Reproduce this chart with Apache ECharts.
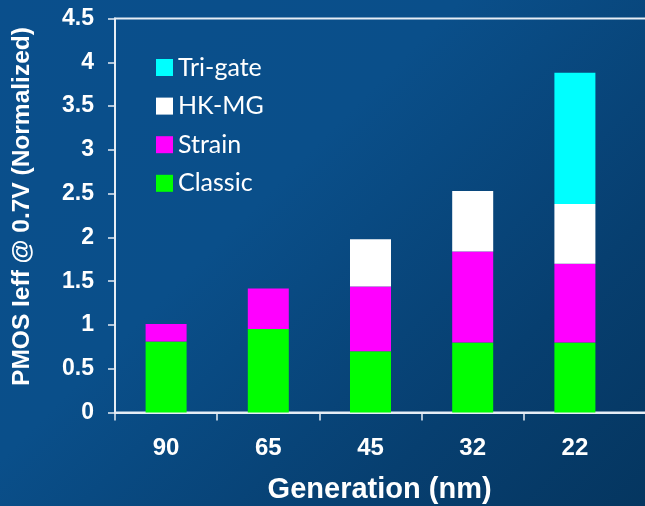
<!DOCTYPE html>
<html>
<head>
<meta charset="utf-8">
<script src="https://cdn.jsdelivr.net/npm/echarts@6/dist/echarts.min.js"></script>
<style>
  html, body { margin: 0; padding: 0; }
  #chart { width: 645px; height: 506px;
    background: linear-gradient(135deg, #0a4f8c 0%, #0a4f8a 40%, #073f70 75%, #053660 100%); }
</style>
</head>
<body>
<div id="chart"></div>
<script>
// Data
const categories = ['90', '65', '45', '32', '22'];
const classic = [0.81, 0.955, 0.70, 0.80, 0.80];
const strain  = [0.20, 0.46, 0.74, 1.04, 0.90];
const hkmg    = [0, 0, 0.54, 0.69, 0.68];
const trigate = [0, 0, 0, 0, 1.50];
const legendOrder = ['Tri-gate', 'HK-MG', 'Strain', 'Classic'];

const chart = echarts.init(document.getElementById('chart'), null, { renderer: 'canvas' });
const axisColor = '#e6edf5';
const boldFont = 'Liberation Sans, Arial, sans-serif';

function barSeries(name, data, color) {
  return {
    name: name, type: 'bar', stack: 'total', data: data,
    barWidth: 41,
    itemStyle: { color: color },
    emphasis: { disabled: true }
  };
}

chart.setOption({
  animation: false,
  backgroundColor: 'transparent',
  grid: {
    left: 115, top: 18.5, width: 613.2, height: 394,
    outerBoundsMode: 'none', containLabel: false,
    show: true, borderColor: axisColor, borderWidth: 2, backgroundColor: 'transparent'
  },
  legend: {
    orient: 'vertical', left: 151, top: 50,
    data: legendOrder,
    icon: 'rect', itemWidth: 17, itemHeight: 17, itemGap: 13.6,
    textStyle: { color: '#ffffff', fontFamily: 'Lato, sans-serif', fontSize: 25, padding: 0 }
  },
  xAxis: {
    type: 'category',
    data: categories.concat(['']),
    axisLine: { lineStyle: { color: axisColor, width: 2 } },
    axisTick: { show: true, length: 8, lineStyle: { color: axisColor, width: 1.5 },
      interval: function (idx) { return idx < 5; } },
    axisLabel: { color: '#ffffff', fontFamily: boldFont, fontWeight: 'bold', fontSize: 24, margin: 24 },
    name: 'Generation (nm)', nameLocation: 'middle', nameGap: 63,
    nameTextStyle: { color: '#ffffff', fontFamily: boldFont, fontWeight: 'bold', fontSize: 29, padding: [0, 84, 0, 0] }
  },
  yAxis: {
    type: 'value', min: 0, max: 4.5, interval: 0.5,
    axisLine: { show: true, lineStyle: { color: axisColor, width: 2 } },
    axisTick: { show: true, length: 7, lineStyle: { color: axisColor, width: 1.5 } },
    splitLine: { show: false },
    axisLabel: { color: '#ffffff', fontFamily: boldFont, fontWeight: 'bold', fontSize: 23, margin: 21 },
    name: 'PMOS Ieff @ 0.7V (Normalized)', nameLocation: 'middle', nameGap: 80,
    nameTextStyle: { color: '#ffffff', fontFamily: boldFont, fontWeight: 'bold', fontSize: 24.5, padding: [0, 0, 0, 18] }
  },
  series: [
    barSeries('Classic', classic, '#00ff00'),
    barSeries('Strain', strain, '#ff00ff'),
    barSeries('HK-MG', hkmg, '#ffffff'),
    barSeries('Tri-gate', trigate, '#00ffff')
  ]
});
</script>
</body>
</html>
